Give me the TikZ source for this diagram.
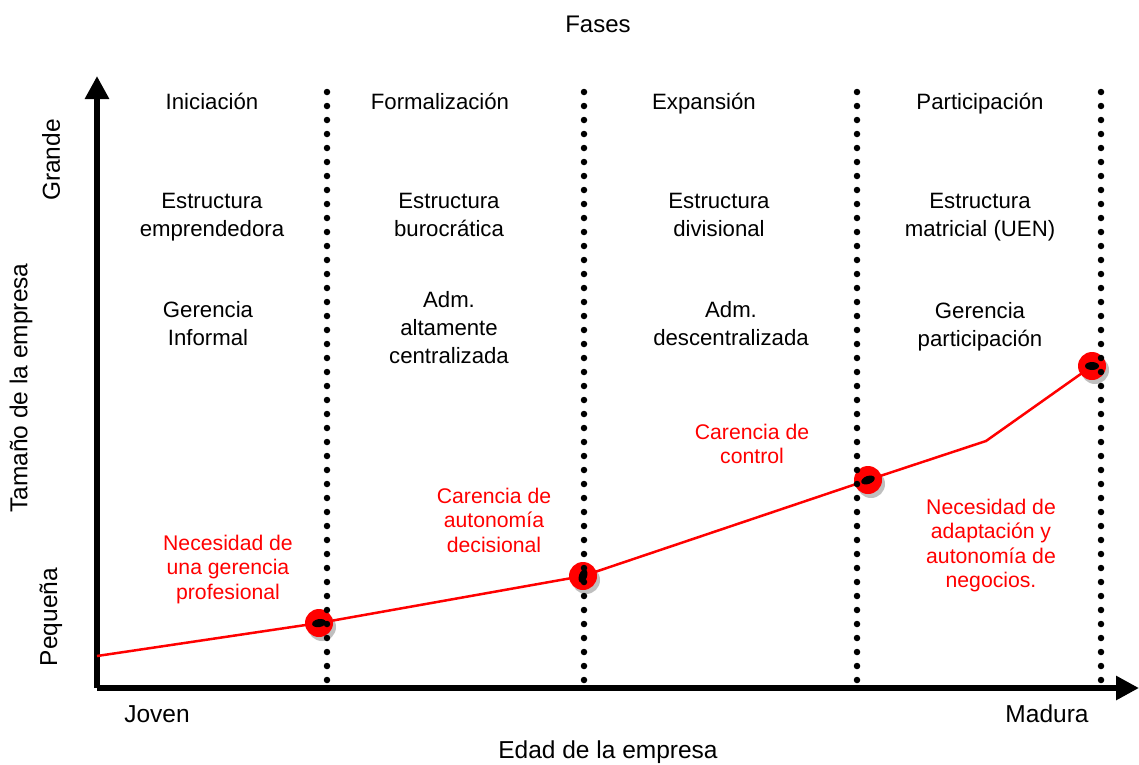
\documentclass[tikz,border=0pt]{standalone}
\usepackage{fontspec}
\setmainfont{Liberation Sans}
\usetikzlibrary{arrows.meta, shadows}
\tikzstyle{axis} = [line width=6pt, -{Triangle[length=23pt,width=23pt]}]
\tikzstyle{phaseline} = [line width=6.5pt, line cap=round, dash pattern=on 0pt off 14pt]
\tikzstyle{crisis} = [circle, fill=red, minimum size=28pt, inner sep=0pt,
  drop shadow={shadow xshift=3pt, shadow yshift=-4pt, fill=black!25, opacity=1}]
\tikzstyle{phase} = [align=center, font=\fontsize{22.2}{28}\selectfont]
\tikzstyle{problem} = [align=center, text=red, font=\fontsize{21.2}{24.5}\selectfont]
\tikzstyle{axislabel} = [font=\fontsize{24.5}{28}\selectfont]

\begin{document}
\begin{tikzpicture}[x=1pt, y=-1pt]
  \useasboundingbox (0,0) rectangle (1139,764);
  % axes
  \coordinate (origin) at (97,688);
  \coordinate (ytip) at (97,76);
  \coordinate (xtip) at (1139,688);
  \draw[axis] (origin) -- (ytip);
  \draw[axis] (origin) -- (xtip);
  % growth curve with crises
  \coordinate (start) at (97,656);
  \coordinate (bend) at (986,441);
  \node[crisis] (crisis1) at (319,623) {};
  \node[crisis] (crisis2) at (583,576) {};
  \node[crisis] (crisis3) at (868,480) {};
  \node[crisis] (crisis4) at (1092,366) {};
  \draw[red, line width=2.5pt] (start) -- (crisis1.center) -- (crisis2.center)
    -- (crisis3.center) -- (bend) -- (crisis4.center);
  \foreach \c/\a in {crisis1/10, crisis2/70, crisis3/20, crisis4/0}
    \fill[black, rotate around={\a:(\c)}] (\c) ellipse (7 and 4);
  % phase boundaries
  \foreach \x [count=\i] in {327, 584, 857, 1101} {
    \coordinate (top\i) at (\x,92);
    \coordinate (bot\i) at (\x,686);
    \draw[phaseline] (top\i) -- (bot\i);
  }
  % titles
  \node[phase, font=\fontsize{24}{28}\selectfont] (fases) at (598,24) {Fases};
  \node[phase] (ini) at (212,101) {Iniciación};
  \node[phase] (for) at (440,101) {Formalización};
  \node[phase] (exp) at (704,104) {Expansión};
  \node[phase] (par) at (980,104) {Participación};
  % structures
  \node[phase] (est1) at (212,217) {Estructura\\emprendedora};
  \node[phase] (est2) at (449,215) {Estructura\\burocrática};
  \node[phase] (est3) at (719,215) {Estructura\\divisional};
  \node[phase] (est4) at (980,217) {Estructura\\matricial (UEN)};
  % management
  \node[phase] (ger1) at (208,324) {Gerencia\\Informal};
  \node[phase] (ger2) at (449,328) {Adm.\\altamente\\centralizada};
  \node[phase] (ger3) at (731,324) {Adm.\\descentralizada};
  \node[phase] (ger4) at (980,327) {Gerencia\\participación};
  % problems
  \node[problem] (prob1) at (228,569.5) {Necesidad de\\una gerencia\\profesional};
  \node[problem] (prob2) at (494,520) {Carencia de\\autonomía\\decisional};
  \node[problem] (prob3) at (752,444) {Carencia de\\control};
  \node[problem] (prob4) at (991,545.5) {Necesidad de\\adaptación y\\autonomía de\\negocios.};
  % axis labels
  \node[axislabel, rotate=90] (grande) at (51,160) {Grande};
  \node[axislabel, rotate=90] (pequena) at (51,617) {Pequeña};
  \node[axislabel, rotate=90] (tamano) at (21,388) {Tamaño de la empresa};
  \node[axislabel] (joven) at (157,714) {Joven};
  \node[axislabel] (madura) at (1047,714) {Madura};
  \node[axislabel] (edad) at (608,752) {Edad de la empresa};
\end{tikzpicture}
\end{document}
